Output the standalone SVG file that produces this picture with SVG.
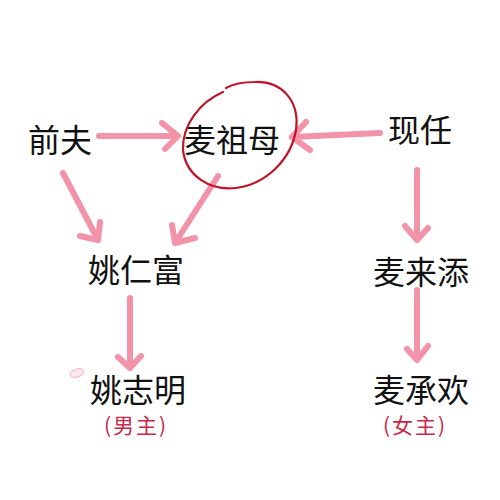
<svg xmlns="http://www.w3.org/2000/svg" width="500" height="500" viewBox="0 0 500 500">
<style>
.t{font-family:"Noto Sans CJK SC","Noto Sans CJK JP",sans-serif;font-size:32px;fill:#111;}
.r{font-family:"Noto Sans CJK SC","Noto Sans CJK JP",sans-serif;font-size:21px;fill:#c8264a;letter-spacing:2px;}
.a{fill:none;stroke:#f293aa;stroke-width:6;stroke-linecap:round;stroke-linejoin:round;}
</style>
<rect width="500" height="500" fill="#fff"/>
<g id="connectors">
<path class="a" d="M99 136 L178 136 M162 123 L178 136 L165 149"/>
<path class="a" d="M380 133 L292 137 M306 122 L292 137 L310 150"/>
<path class="a" d="M63 173 L98 240 M80 236 L98 240 L100 222"/>
<path class="a" d="M218 176 L175 243 M172 225 L175 243 L195 238"/>
<path class="a" d="M417 170 L417 240 M405 226 L417 240 L428 228"/>
<path class="a" d="M130 298 L130 368 M118 357 L130 368 L141 356"/>
<path class="a" d="M417 290 L417 360 M407 349 L417 360 L428 346"/>
</g>
<g id="n-qianfu"><text class="t" x="28" y="152">前夫</text></g>
<g id="n-maizumu">
<text class="t" x="184" y="152">麦祖母</text>
<path d="M223 92 C200 102 182 125 183 150 C186 176 210 191 236 188 C266 184 291 160 296 130 C300 100 281 81 255 82 C243 82 233 84 226 88" fill="none" stroke="#c0142a" stroke-width="2.2" stroke-linecap="round"/>
</g>
<g id="n-xianren"><text class="t" x="388" y="142">现任</text></g>
<g id="n-yaorenfu"><text class="t" x="88" y="282">姚仁富</text></g>
<g id="n-mailaitian"><text class="t" x="373" y="284">麦来添</text></g>
<g id="n-yaozhiming">
<ellipse cx="77" cy="373" rx="7" ry="4" transform="rotate(-20 77 373)" fill="#fde8ee" stroke="#f5b5c5" stroke-width="1"/>
<text class="t" x="90" y="402">姚志明</text>
<text class="r" x="104" y="433">(男主)</text>
</g>
<g id="n-maichenghuan">
<text class="t" x="373" y="402">麦承欢</text>
<text class="r" x="383" y="433">(女主)</text>
</g>
</svg>
